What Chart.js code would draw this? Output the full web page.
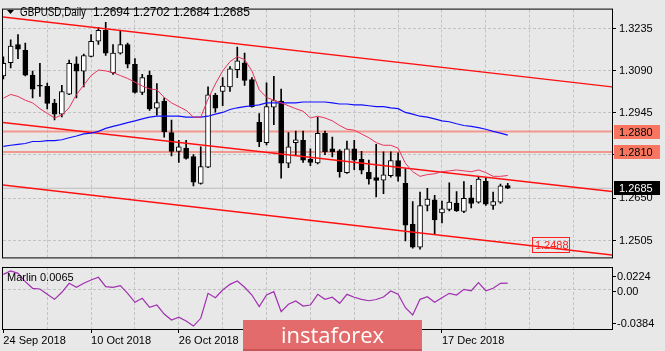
<!DOCTYPE html>
<html>
<head>
<meta charset="utf-8">
<title>GBPUSD Daily</title>
<script src="https://cdn.jsdelivr.net/npm/chart.js@4/dist/chart.umd.min.js"></script>
<style>
    body { margin: 0; background: #e8e8e8; }
    #wrap { position: relative; width: 665px; height: 351px; overflow: hidden; background: #e8e8e8; }
    #main { position: absolute; left: 0; top: 0; }
    #sub { position: absolute; left: 0; top: 266px; }
    #brand {
        position: absolute; left: 243px; top: 320px; width: 179px; height: 31px;
        background: #e46b6b; border-bottom: 2px solid #c85656; box-sizing: border-box;
        color: #fff; font: 22px "Open Sans", sans-serif; line-height: 28px; text-align: center;
    }
</style>
</head>
<body>
<div id="wrap">
    <canvas id="main" width="665" height="267"></canvas>
    <canvas id="sub" width="665" height="85"></canvas>
    <div id="brand">instaforex</div>
</div>
<script>
// GBPUSD daily bars, 24 Sep 2018 ... end of Dec 2018
const opens = [
    1.3072, 1.3117, 1.3180, 1.3160, 1.3075, 1.3039, 1.3036, 1.2978, 1.2940, 1.3009,
    1.3113, 1.3088, 1.3139, 1.3191, 1.3229, 1.3083, 1.3150, 1.3180, 1.3112, 1.3015,
    1.3074, 1.2961, 1.2985, 1.2877, 1.2812, 1.2823, 1.2794, 1.2702, 1.2758, 1.3005,
    1.3018, 1.3034, 1.3093, 1.3117, 1.3059, 1.2912, 1.2842, 1.2964, 1.2985, 1.2771,
    1.2842, 1.2850, 1.2785, 1.2772, 1.2874, 1.2821, 1.2814, 1.2739, 1.2821, 1.2785,
    1.2740, 1.2722, 1.2713, 1.2728, 1.2780, 1.2702, 1.2561, 1.2482, 1.2626, 1.2645,
    1.2600, 1.2612, 1.2634, 1.2605, 1.2652, 1.2637, 1.2709, 1.2626, 1.2637, 1.2694
];
const highs = [
    1.3137, 1.3196, 1.3214, 1.3185, 1.3088, 1.3115, 1.3047, 1.2991, 1.3039, 1.3126,
    1.3137, 1.3147, 1.3214, 1.3239, 1.3256, 1.3180, 1.3229, 1.3185, 1.3131, 1.3077,
    1.3088, 1.3045, 1.2996, 1.2920, 1.2850, 1.2850, 1.2801, 1.2828, 1.3034, 1.3012,
    1.3066, 1.3104, 1.3171, 1.3150, 1.3066, 1.2942, 1.3048, 1.3070, 1.3026, 1.2877,
    1.2882, 1.2882, 1.2821, 1.2929, 1.2882, 1.2861, 1.2818, 1.2847, 1.2850, 1.2812,
    1.2782, 1.2836, 1.2810, 1.2810, 1.2807, 1.2753, 1.2639, 1.2672, 1.2685, 1.2661,
    1.2641, 1.2704, 1.2674, 1.2708, 1.2695, 1.2726, 1.2720, 1.2672, 1.2699, 1.2702
];
const lows = [
    1.3061, 1.3099, 1.3131, 1.3072, 1.2996, 1.3001, 1.2958, 1.2920, 1.2931, 1.3007,
    1.2996, 1.3034, 1.3137, 1.3180, 1.3142, 1.3077, 1.3147, 1.3099, 1.3012, 1.3007,
    1.2953, 1.2937, 1.2861, 1.2796, 1.2774, 1.2785, 1.2693, 1.2699, 1.2756, 1.2947,
    1.2969, 1.3018, 1.3066, 1.3039, 1.2964, 1.2828, 1.2834, 1.2904, 1.2720, 1.2756,
    1.2801, 1.2774, 1.2763, 1.2769, 1.2801, 1.2793, 1.2723, 1.2736, 1.2749, 1.2734,
    1.2699, 1.2655, 1.2666, 1.2723, 1.2709, 1.2504, 1.2479, 1.2475, 1.2607, 1.2529,
    1.2566, 1.2607, 1.2605, 1.2601, 1.2617, 1.2634, 1.2626, 1.2612, 1.2633, 1.2684
];
const closes = [
    1.3115, 1.3174, 1.3164, 1.3074, 1.3026, 1.3036, 1.2977, 1.2940, 1.3018, 1.3115,
    1.3088, 1.3142, 1.3191, 1.3229, 1.3150, 1.3150, 1.3180, 1.3112, 1.3015, 1.3066,
    1.2958, 1.2980, 1.2879, 1.2812, 1.2828, 1.2788, 1.2706, 1.2760, 1.3007, 1.2961,
    1.3037, 1.3096, 1.3124, 1.3056, 1.2966, 1.2845, 1.2966, 1.2987, 1.2771, 1.2828,
    1.2852, 1.2782, 1.2774, 1.2874, 1.2810, 1.2810, 1.2742, 1.2821, 1.2782, 1.2747,
    1.2717, 1.2712, 1.2731, 1.2780, 1.2726, 1.2558, 1.2482, 1.2625, 1.2648, 1.2576,
    1.2614, 1.2637, 1.2607, 1.2650, 1.2633, 1.2717, 1.2630, 1.2639, 1.2693, 1.2685
];
// fast (red) and slow (blue) moving averages
const maFast = [
    1.2995, 1.3008, 1.3001, 1.2988, 1.2979, 1.2959, 1.2943, 1.2927, 1.2937, 1.2962,
    1.3008, 1.3040, 1.3073, 1.3092, 1.3089, 1.3083, 1.3073, 1.3063, 1.3050, 1.3037,
    1.3027, 1.3024, 1.2998, 1.2979, 1.2966, 1.2953, 1.2930, 1.2930, 1.2992, 1.3044,
    1.3089, 1.3121, 1.3138, 1.3128, 1.3089, 1.3024, 1.2998, 1.2988, 1.2979, 1.2969,
    1.2959, 1.2950, 1.2927, 1.2933, 1.2927, 1.2917, 1.2901, 1.2888, 1.2885, 1.2872,
    1.2859, 1.2842, 1.2833, 1.2833, 1.2823, 1.2771, 1.2742, 1.2726, 1.2732, 1.2735,
    1.2742, 1.2745, 1.2748, 1.2745, 1.2742, 1.2748, 1.2739, 1.2726, 1.2726, 1.2729
];
const maSlow = [
    1.2829, 1.2833, 1.2836, 1.2839, 1.2846, 1.2846, 1.2849, 1.2849, 1.2852, 1.2859,
    1.2865, 1.2872, 1.2875, 1.2881, 1.2891, 1.2898, 1.2904, 1.2911, 1.2917, 1.2924,
    1.2930, 1.2933, 1.2933, 1.2933, 1.2933, 1.2930, 1.2930, 1.2930, 1.2933, 1.2940,
    1.2946, 1.2956, 1.2962, 1.2966, 1.2969, 1.2972, 1.2979, 1.2979, 1.2979, 1.2979,
    1.2979, 1.2982, 1.2982, 1.2982, 1.2982, 1.2979, 1.2975, 1.2975, 1.2972, 1.2972,
    1.2969, 1.2966, 1.2966, 1.2962, 1.2959, 1.2946, 1.2940, 1.2933, 1.2930, 1.2924,
    1.2917, 1.2914, 1.2907, 1.2901, 1.2898, 1.2894, 1.2888, 1.2881, 1.2875, 1.2868
];
// Marlin oscillator
const marlin = [
    0.0152, 0.0185, 0.0162, 0.0080, 0.0015, 0.0008, -0.0044, -0.0093, -0.0024, 0.0064,
    0.0025, 0.0064, 0.0096, 0.0123, 0.0031, 0.0025, 0.0041, -0.0034, -0.0122, -0.0083,
    -0.0171, -0.0149, -0.0237, -0.0296, -0.0269, -0.0306, -0.0355, -0.0279, -0.0034, -0.0077,
    -0.0002, 0.0054, 0.0087, 0.0025, -0.0051, -0.0165, -0.0051, -0.0018, -0.0215, -0.0142,
    -0.0110, -0.0159, -0.0149, -0.0044, -0.0093, -0.0073, -0.0132, -0.0044, -0.0073, -0.0093,
    -0.0107, -0.0095, -0.0070, -0.0011, -0.0044, -0.0175, -0.0247, -0.0093, -0.0067, -0.0122,
    -0.0077, -0.0034, -0.0051, 0.0005, -0.0009, 0.0070, -0.0009, 0.0015, 0.0064, 0.0065
];

// channel lines: [barStart, priceStart, barEnd, priceEnd]
const channelUpper = [-1, 1.3277, 84, 1.3032];
const channelMiddle = [-1, 1.2914, 84, 1.2672];
const channelLower = [-1, 1.2699, 84, 1.2453];
const levels = [1.2880, 1.2810];
const targetLabel = [72.3, 1.2488];

// axes
const priceTicks = [1.2505, 1.2650, 1.2800, 1.2945, 1.3090, 1.3235];
const marlinTicks = [0.0224, 0, -0.0384];
const gridBars = [0, 6, 12, 18, 24, 30, 36, 42, 48, 54, 60, 66, 72, 78];
const dateBars = [0, 12, 24, 36, 48, 60];
const dateLabels = ['24 Sep 2018', '10 Oct 2018', '26 Oct 2018', '13 Nov 2018', '29 Nov 2018', '17 Dec 2018'];
const symbol = 'GBPUSD,Daily';

const xMin = -0.05, xMax = 83.26;
const gridColor = '#c3c3c3';
const last = closes.length - 1;

Chart.defaults.font.family = '"Liberation Sans", Arial, sans-serif';
Chart.defaults.font.size = 11;
Chart.defaults.color = '#000';

const toPoints = arr => arr.map((v, i) => ({x: i, y: v}));
const segment = l => [{x: l[0], y: l[1]}, {x: l[2], y: l[3]}];
const flat = v => [{x: -1, y: v}, {x: 84, y: v}];
const lineSet = (data, color, width, order) => ({
    type: 'line', data, borderColor: color, borderWidth: width,
    pointRadius: 0, tension: 0, order
});

// price boxes, frame and title of the main panel
const mainDecor = {
    id: 'mainDecor',
    afterDraw(chart) {
        const {ctx, chartArea: a, scales: {x, y}} = chart;
        ctx.save();
        ctx.strokeStyle = '#000';
        ctx.lineWidth = 1;
        ctx.strokeRect(a.left - 0.5, a.top - 0.5, a.right - a.left + 1, a.bottom - a.top + 1);

        // title
        ctx.fillStyle = '#000';
        ctx.beginPath();
        ctx.moveTo(7, 10); ctx.lineTo(14, 10); ctx.lineTo(10.5, 14); ctx.closePath();
        ctx.fill();
        ctx.font = '12px "Liberation Sans"';
        ctx.textBaseline = 'middle';
        ctx.fillText(symbol, 20, 13, 66);
        ctx.fillText([opens[last], highs[last], lows[last], closes[last]].map(v => v.toFixed(4)).join(' '), 93, 13);

        // right side price boxes
        ctx.font = '11px "Liberation Sans"';
        const box = (v, bg, fg) => {
            const py = Math.round(y.getPixelForValue(v));
            ctx.fillStyle = bg;
            ctx.fillRect(a.right + 2, py - 7, 46, 14);
            ctx.fillStyle = fg;
            ctx.fillText(v.toFixed(4), a.right + 7, py + 0.5);
        };
        levels.forEach(v => box(v, '#f8765f', '#000'));
        box(closes[last], '#000', '#fff');

        // target label on the lower channel line
        const tx = x.getPixelForValue(targetLabel[0]);
        const ty = Math.round(y.getPixelForValue(targetLabel[1]));
        ctx.strokeStyle = '#ff2020';
        ctx.strokeRect(Math.round(tx) + 0.5, ty - 7.5, 37, 15);
        ctx.fillStyle = '#ff2020';
        ctx.fillText(targetLabel[1].toFixed(4), tx + 3, ty + 0.5);
        ctx.restore();
    }
};

new Chart(document.getElementById('main'), {
    type: 'line',
    data: {
        datasets: [
            lineSet(toPoints(maFast), '#e8345c', 1, 0),
            lineSet(toPoints(maSlow), '#1010ff', 1.2, 0),
            lineSet(segment(channelUpper), '#ff1010', 1.4, 0),
            lineSet(segment(channelMiddle), '#ff1010', 1.4, 0),
            lineSet(segment(channelLower), '#ff1010', 1.4, 0),
            {
                type: 'bar', order: 1, grouped: false, barThickness: 5, minBarLength: 1,
                data: closes.map((c, i) => ({x: i, y: [opens[i], c]})),
                backgroundColor: ctx => closes[ctx.dataIndex] >= opens[ctx.dataIndex] ? '#fff' : '#000',
                borderColor: '#000', borderWidth: 1, borderSkipped: false
            },
            {
                type: 'bar', order: 2, grouped: false, barThickness: 1,
                data: highs.map((h, i) => ({x: i, y: [lows[i], h]})),
                backgroundColor: '#000'
            },
            lineSet(flat(levels[0]), 'rgba(247,120,105,0.7)', 2, 3),
            lineSet(flat(levels[1]), 'rgba(247,120,105,0.7)', 2, 3),
            lineSet(flat(closes[last]), '#bcbcbc', 1, 3)
        ]
    },
    options: {
        responsive: false,
        animation: false,
        layout: {padding: {left: 3, top: 3, right: 0, bottom: 1}},
        plugins: {legend: {display: false}, tooltip: {enabled: false}},
        scales: {
            x: {
                type: 'linear', min: xMin, max: xMax, offset: false,
                afterBuildTicks: s => { s.ticks = gridBars.slice(1).map(v => ({value: v})); },
                afterFit: s => { s.height = 0; },
                ticks: {display: false},
                grid: {color: gridColor, drawTicks: false, offset: false, borderDash: [3, 2]},
                border: {display: false, dash: [3, 2]}
            },
            y: {
                type: 'linear', position: 'right', min: 1.2447, max: 1.3300,
                afterBuildTicks: s => { s.ticks = priceTicks.map(v => ({value: v})); },
                afterFit: s => { s.width = 53; },
                ticks: {callback: v => v.toFixed(4), padding: 3},
                grid: {color: gridColor, tickColor: '#000', tickLength: 4, tickBorderDash: [], borderDash: [3, 2]},
                border: {display: false, dash: [3, 2]}
            }
        }
    },
    plugins: [mainDecor]
});

// Marlin sub window
const subDecor = {
    id: 'subDecor',
    afterDraw(chart) {
        const {ctx, chartArea: a, scales: {y}} = chart;
        ctx.save();
        ctx.strokeStyle = '#000';
        ctx.lineWidth = 1;
        ctx.strokeRect(a.left - 0.5, a.top + 0.5, a.right - a.left + 1, a.bottom - a.top);
        ctx.fillStyle = '#000';
        ctx.font = '11px "Liberation Sans"';
        ctx.textBaseline = 'middle';
        ctx.fillText('Marlin ' + marlin[last].toFixed(4), 7, 12);
        marlinTicks.forEach(v => {
            let py = y.getPixelForValue(v);
            if (v === marlinTicks[0]) py += 9;
            else if (v === marlinTicks[2]) py -= 6;
            else py += 1;
            py = Math.round(py);
            ctx.fillRect(a.right, py, 4, 1);
            ctx.fillText(v === 0 ? '0.00' : v.toFixed(4), a.right + 5, py + 0.5);
        });
        ctx.restore();
    }
};

new Chart(document.getElementById('sub'), {
    type: 'line',
    data: {
        datasets: [lineSet(toPoints(marlin), '#a030b0', 1.2, 0)]
    },
    options: {
        responsive: false,
        animation: false,
        layout: {padding: {left: 3, top: 1, right: 0, bottom: 0}},
        plugins: {legend: {display: false}, tooltip: {enabled: false}},
        scales: {
            x: {
                type: 'linear', min: xMin, max: xMax, offset: false,
                afterBuildTicks: s => { s.ticks = gridBars.map(v => ({value: v})); },
                afterFit: s => { s.height = 22; },
                ticks: {
                    autoSkip: false, maxRotation: 0, align: 'start', padding: 1,
                    callback: v => { const k = dateBars.indexOf(v); return k < 0 ? '' : dateLabels[k]; }
                },
                grid: {
                    color: ctx => ctx.tick && ctx.tick.value === 0 ? 'rgba(0,0,0,0)' : gridColor,
                    tickColor: ctx => ctx.tick && dateBars.includes(ctx.tick.value) ? '#000' : 'rgba(0,0,0,0)',
                    tickLength: 4, tickBorderDash: [], offset: false, borderDash: [3, 2]
                },
                border: {display: false, dash: [3, 2]}
            },
            y: {
                type: 'linear', position: 'right', min: marlinTicks[2], max: marlinTicks[0],
                afterBuildTicks: s => { s.ticks = [{value: 0}]; },
                afterFit: s => { s.width = 53; },
                ticks: {display: false},
                grid: {color: gridColor, drawTicks: false, borderDash: [3, 2]},
                border: {display: false, dash: [3, 2]}
            }
        }
    },
    plugins: [subDecor]
});
</script>
</body>
</html>
